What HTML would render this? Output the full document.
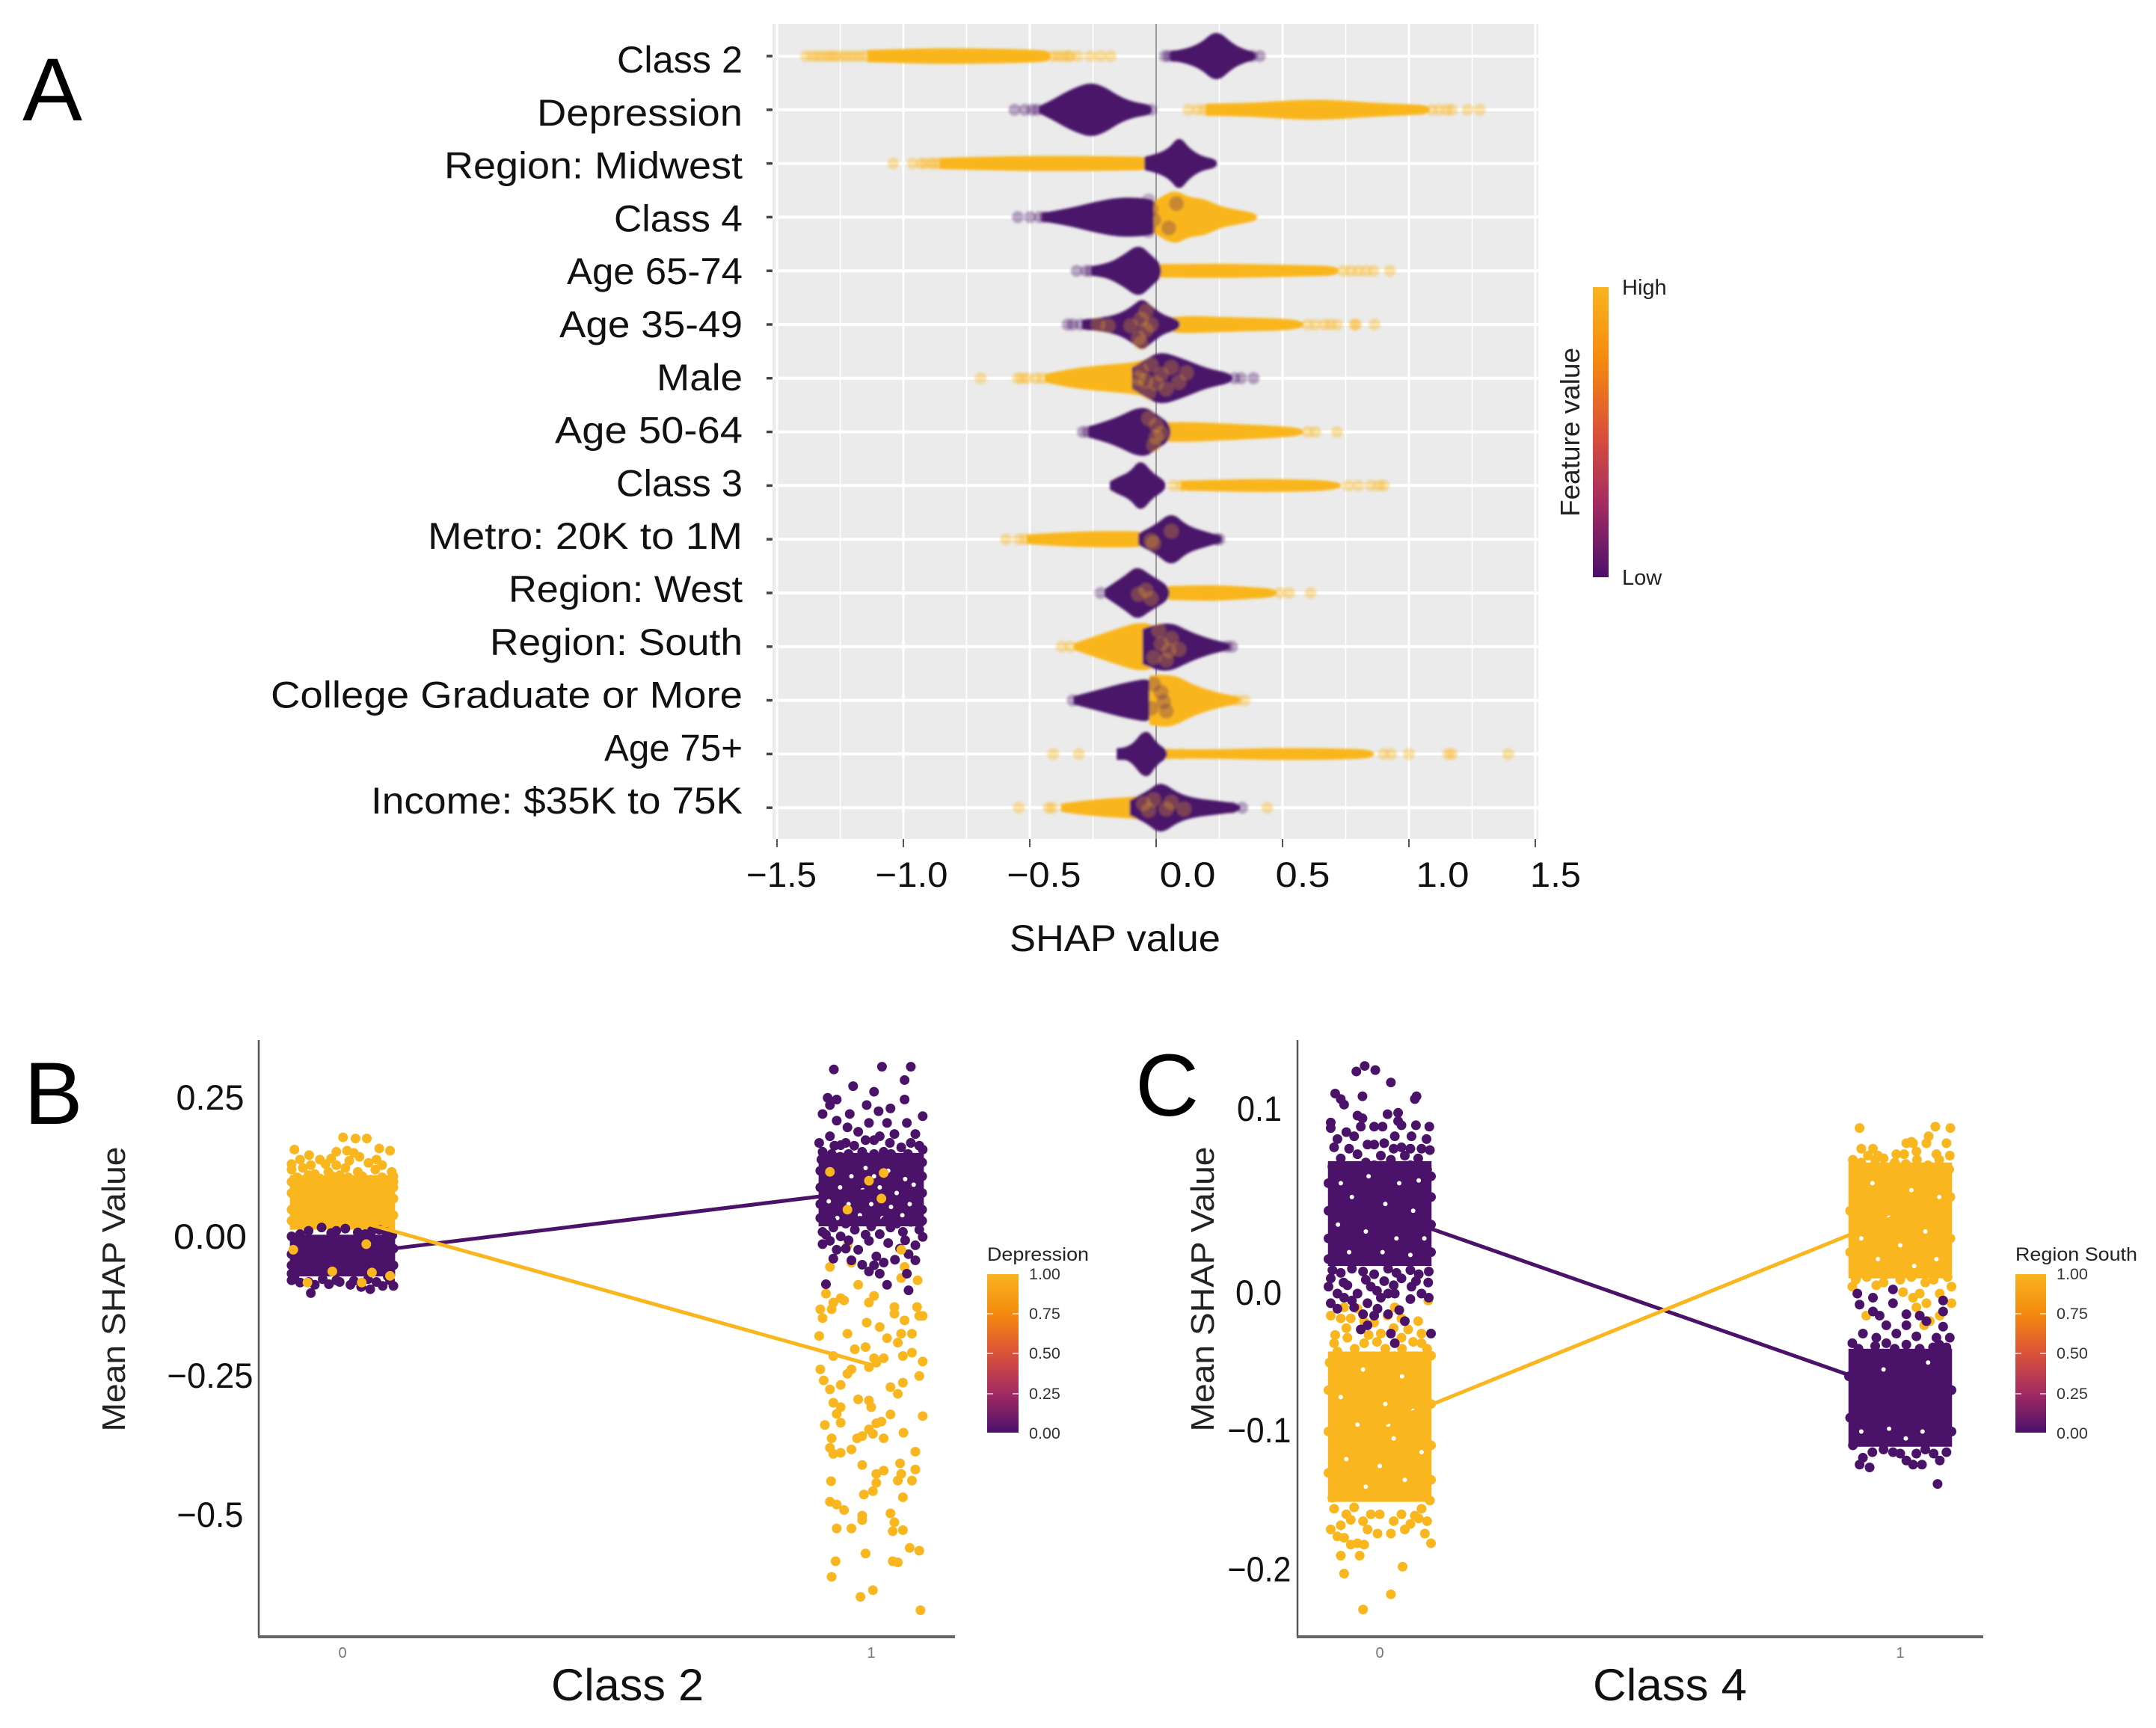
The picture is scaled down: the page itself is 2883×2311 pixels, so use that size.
<!DOCTYPE html>
<html lang="en">
<head>
<meta charset="utf-8">
<title>SHAP summary and interaction plots</title>
<style>
html,body{margin:0;padding:0;background:#fff;}
svg{display:block;font-family:"Liberation Sans",Arial,sans-serif;}
</style>
</head>
<body>
<svg id="fig" xmlns="http://www.w3.org/2000/svg" width="2883" height="2311" viewBox="0 0 2883 2311">
  <defs>
    <linearGradient id="ga" x1="0" y1="0" x2="0" y2="1">
      <stop offset="0" stop-color="#F9B41F"/><stop offset="0.25" stop-color="#F58A0E"/><stop offset="0.5" stop-color="#DB5239"/><stop offset="0.75" stop-color="#A32B62"/><stop offset="1" stop-color="#4B106C"/>
    </linearGradient>
    <filter id="soft" x="-5%" y="-5%" width="110%" height="110%"><feGaussianBlur stdDeviation="1.6"/></filter>
  </defs>
  <rect width="2883" height="2311" fill="#fff"/>

  <text x="30" y="161" font-size="120" fill="#000">A</text>
  <text x="32" y="1503" font-size="118" fill="#000">B</text>
  <text x="1518" y="1492" font-size="118" fill="#000">C</text>

  <rect x="1033" y="32" width="1024" height="1090" fill="#EBEBEB"/>
  <g id="grid"></g>
  <g id="swarm" filter="url(#soft)"></g>
  <g id="axisA"></g>

  <g font-size="47" fill="#111" text-anchor="middle">
    <text x="1045" y="1186" textLength="94" lengthAdjust="spacingAndGlyphs">−1.5</text>
    <text x="1219" y="1186" textLength="97" lengthAdjust="spacingAndGlyphs">−1.0</text>
    <text x="1396" y="1186" textLength="99" lengthAdjust="spacingAndGlyphs">−0.5</text>
    <text x="1588" y="1186" textLength="75" lengthAdjust="spacingAndGlyphs">0.0</text>
    <text x="1742" y="1186" textLength="73" lengthAdjust="spacingAndGlyphs">0.5</text>
    <text x="1929" y="1186" textLength="71" lengthAdjust="spacingAndGlyphs">1.0</text>
    <text x="2080" y="1186" textLength="68" lengthAdjust="spacingAndGlyphs">1.5</text>
  </g>
  <text x="1491" y="1272" font-size="50" fill="#111" text-anchor="middle" textLength="282" lengthAdjust="spacingAndGlyphs">SHAP value</text>

  <g>
    <rect x="2130" y="384" width="21" height="388" fill="url(#ga)"/>
    <text x="2169" y="394" font-size="29" fill="#222">High</text>
    <text x="2169" y="782" font-size="29" fill="#222">Low</text>
    <text transform="translate(2112 578) rotate(-90)" font-size="36" fill="#222" text-anchor="middle" textLength="226" lengthAdjust="spacingAndGlyphs">Feature value</text>
  </g>

  <!-- Panel B -->
  <g id="plotB"></g>
  <line x1="346" y1="1391" x2="346" y2="2189" stroke="#555" stroke-width="2.5"/>
  <line x1="345" y1="2189" x2="1277" y2="2189" stroke="#666" stroke-width="4"/>
  <text transform="translate(167 1724) rotate(-90)" font-size="44" fill="#222" text-anchor="middle" textLength="381" lengthAdjust="spacingAndGlyphs">Mean SHAP Value</text>
  <text x="839" y="2274" font-size="60" fill="#111" text-anchor="middle" textLength="204" lengthAdjust="spacingAndGlyphs">Class 2</text>
  <g font-size="47" fill="#111" text-anchor="middle">
    <text x="281" y="1484" textLength="91" lengthAdjust="spacingAndGlyphs">0.25</text>
    <text x="281" y="1670" textLength="98" lengthAdjust="spacingAndGlyphs">0.00</text>
    <text x="281" y="1856" textLength="115" lengthAdjust="spacingAndGlyphs">−0.25</text>
    <text x="281" y="2042" textLength="89" lengthAdjust="spacingAndGlyphs">−0.5</text>
  </g>
  <text x="458" y="2217" font-size="20" fill="#777" text-anchor="middle">0</text>
  <text x="1165" y="2217" font-size="20" fill="#777" text-anchor="middle">1</text>
  <g>
    <text x="1320" y="1686" font-size="25" fill="#222" textLength="136" lengthAdjust="spacingAndGlyphs">Depression</text>
    <rect x="1320" y="1704" width="42" height="212" fill="url(#ga)"/>
    <path d="M1320 1757h8M1354 1757h8M1320 1810h8M1354 1810h8M1320 1864h8M1354 1864h8" stroke="#fff" stroke-opacity=".6" stroke-width="2"/>
    <g font-size="21.5" fill="#333">
      <text x="1376" y="1711">1.00</text>
      <text x="1376" y="1764">0.75</text>
      <text x="1376" y="1817">0.50</text>
      <text x="1376" y="1871">0.25</text>
      <text x="1376" y="1924">0.00</text>
    </g>
  </g>

  <!-- Panel C -->
  <g id="plotC"></g>
  <line x1="1735" y1="1391" x2="1735" y2="2189" stroke="#555" stroke-width="2.5"/>
  <line x1="1734" y1="2189" x2="2652" y2="2189" stroke="#666" stroke-width="4"/>
  <text transform="translate(1623 1724) rotate(-90)" font-size="44" fill="#222" text-anchor="middle" textLength="381" lengthAdjust="spacingAndGlyphs">Mean SHAP Value</text>
  <text x="2233" y="2274" font-size="60" fill="#111" text-anchor="middle" textLength="206" lengthAdjust="spacingAndGlyphs">Class 4</text>
  <g font-size="47" fill="#111" text-anchor="middle">
    <text x="1684" y="1499" textLength="60" lengthAdjust="spacingAndGlyphs">0.1</text>
    <text x="1683" y="1745" textLength="62" lengthAdjust="spacingAndGlyphs">0.0</text>
    <text x="1684" y="1929" textLength="85" lengthAdjust="spacingAndGlyphs">−0.1</text>
    <text x="1684" y="2115" textLength="85" lengthAdjust="spacingAndGlyphs">−0.2</text>
  </g>
  <text x="1845" y="2217" font-size="20" fill="#777" text-anchor="middle">0</text>
  <text x="2541" y="2217" font-size="20" fill="#777" text-anchor="middle">1</text>
  <g>
    <text x="2695" y="1686" font-size="25" fill="#222" textLength="163" lengthAdjust="spacingAndGlyphs">Region South</text>
    <rect x="2695" y="1704" width="41" height="212" fill="url(#ga)"/>
    <path d="M2695 1757h8M2728 1757h8M2695 1810h8M2728 1810h8M2695 1864h8M2728 1864h8" stroke="#fff" stroke-opacity=".6" stroke-width="2"/>
    <g font-size="21.5" fill="#333">
      <text x="2750" y="1711">1.00</text>
      <text x="2750" y="1764">0.75</text>
      <text x="2750" y="1817">0.50</text>
      <text x="2750" y="1871">0.25</text>
      <text x="2750" y="1924">0.00</text>
    </g>
  </g>
</svg>

<script>
/* ===== Panel A data ===== */
const features = ["Class 2","Depression","Region: Midwest","Class 4","Age 65-74","Age 35-49","Male","Age 50-64","Class 3","Metro: 20K to 1M","Region: West","Region: South","College Graduate or More","Age 75+","Income: $35K to 75K"];
const featureLabelLengths = [168,275,399,172,235,245,115,251,169,421,313,338,631,185,497];
const shapTicks = [-1.5,-1,-0.5,0,0.5,1,1.5];
const shapMinorTicks = [-1.25,-0.75,-0.25,0.25,0.75,1.25];
/* density envelopes: [SHAP value, relative density] per feature */
const lowDensity = [
 [[.06,.16],[.103,.2],[.177,.44],[.238,.96],[.3,.44],[.348,.22],[.39,.12]],
 [[-.461,.11],[-.412,.33],[-.363,.6],[-.314,.82],[-.258,.99],[-.204,.82],[-.142,.44],[-.081,.24],[-.02,.16]],
 [[-.044,.22],[.005,.33],[.054,.55],[.091,.99],[.128,.55],[.177,.24],[.238,.13]],
 [[-.449,.13],[-.339,.31],[-.24,.55],[-.142,.71],[-.044,.68],[.002,.55]],
 [[-.253,.15],[-.191,.24],[-.13,.55],[-.069,.97],[-.02,.55],[.017,.22]],
 [[-.29,.15],[-.216,.22],[-.142,.38],[-.093,.66],[-.056,.95],[-.02,.66],[.029,.31],[.091,.16]],
 [[-.093,.38],[-.044,.66],[.017,.97],[.103,.71],[.201,.33],[.299,.15]],
 [[-.265,.18],[-.167,.44],[-.056,.97],[.005,.6],[.054,.27]],
 [[-.18,.13],[-.153,.28],[-.102,.48],[-.061,.96],[-.017,.45],[.034,.15]],
 [[-.068,.19],[0,.51],[.061,.99],[.119,.48],[.204,.23],[.255,.1]],
 [[-.2,.13],[-.17,.32],[-.119,.64],[-.075,.98],[-.024,.64],[.05,.23]],
 [[-.051,.64],[.041,.96],[.136,.51],[.221,.23],[.289,.1]],
 [[-.323,.13],[-.221,.38],[-.119,.64],[0,.83]],
 [[-.153,.19],[-.102,.19],[-.041,.96],[0,.38],[.041,.13]],
 [[-.102,.26],[-.034,.57],[.017,.96],[.085,.51],[.153,.32],[.238,.23],[.33,.12]]
];
const highDensity = [
 [[-1.14,.2],[-1.0,.24],[-.854,.27],[-.633,.25],[-.486,.21],[-.42,.17]],
 [[.2,.2],[.348,.22],[.446,.27],[.594,.35],[.716,.33],[.839,.24],[.986,.18],[1.08,.14]],
 [[-.854,.18],[-.633,.24],[-.388,.26],[-.142,.24],[-.02,.22]],
 [[-.007,.55],[.034,.82],[.079,.97],[.128,.71],[.189,.66],[.25,.38],[.324,.24],[.397,.11]],
 [[.017,.22],[.238,.24],[.397,.22],[.594,.18],[.72,.15]],
 [[.054,.22],[.103,.31],[.299,.24],[.581,.18]],
 [[-.437,.13],[-.339,.33],[-.216,.46],[-.093,.55],[-.044,.66],[-.007,.77]],
 [[.034,.33],[.128,.35],[.299,.27],[.471,.2],[.58,.11]],
 [[.1,.14],[.187,.18],[.459,.23],[.73,.15]],
 [[-.51,.15],[-.323,.26],[-.153,.28],[-.034,.26]],
 [[.05,.23],[.221,.28],[.357,.2],[.476,.13]],
 [[-.323,.1],[-.255,.32],[-.153,.64],[-.068,.89],[0,.77]],
 [[-.024,.89],[.058,.99],[.153,.51],[.255,.23],[.33,.1]],
 [[.034,.15],[.2,.14],[.39,.18],[.493,.2],[.73,.18],[.86,.13]],
 [[-.374,.13],[-.255,.28],[-.085,.38],[-.017,.45]]
];
const lowTail = [
 [.035,.05,.07,.38,.41],[-.56,-.52,-.49,-.47,-.02],[],[-.547,-.498,-.461,-.44],[-.314,-.277,-.26],[-.35,-.33,-.3,-.27,-.25],[.31,.336,.385],[-.29,-.27],[],[.24,.25],[-.22],[.28,.3],[-.33],[],[.3,.34]
];
const highTail = [
 [-1.385,-1.36,-1.34,-1.32,-1.3,-1.285,-1.27,-1.25,-1.23,-1.21,-1.19,-1.17,-1.15,-.41,-.39,-.37,-.35,-.34,-.31,-.26,-.22,-.18],
 [.128,.164,.19,.213,.23,1.09,1.12,1.15,1.17,1.232,1.28],
 [-1.04,-.964,-.93,-.915,-.89,-.878,-.86],
 [],
 [.74,.77,.8,.83,.86,.925],
 [.6,.63,.667,.69,.716,.785,.79,.864],
 [-.694,-.547,-.53,-.51,-.474,-.45],
 [.6,.63,.716],
 [.068,.1,.136,.76,.8,.85,.88,.9],
 [-.594,-.543,-.52],
 [.49,.527,.611],
 [-.374,-.34],
 [.32,.35],
 [-.408,-.306,.05,.1,.9,.93,1.0,1.155,1.17,1.393],
 [-.543,-.425,-.41,.44]
];
/* overlapping feature-value mixes: [SHAP value, offset from row centre] */
const mixPoints = [
 [],[],[],
 [[-.03,.5],[-.02,-.3],[-.05,.15],[-.01,.1],[-.03,-.6],[.05,.4],[.08,-.5],[-.04,-.1]],
 [],
 [[-.07,.5],[-.04,.2],[-.06,-.2],[-.04,-.5],[-.1,.05],[-.19,.05],[-.23,0],[-.02,.0],[-.06,.7]],
 [[-.08,.3],[-.06,-.3],[-.04,.1],[-.03,.55],[-.02,-.5],[0,.2],[.02,-.15],[.04,.4],[.06,-.4],[-.07,0],[.09,.15],[.12,-.2]],
 [[0,.2],[.0,-.25],[-.01,.5],[-.03,-.5],[.02,.05]],
 [],
 [[-.02,.05],[.06,-.3],[-.01,.15]],
 [[-.07,.05],[-.04,-.1],[-.02,.2]],
 [[-.01,.4],[.02,-.1],[.04,.5],[.06,-.3],[.09,.1],[.01,-.6],[.05,.15]],
 [[-.02,.3],[.02,-.3],[.04,.4],[-.01,-.6],[.03,.05]],
 [],
 [[-.03,.1],[-.05,-.15],[-.01,-.3],[.04,.05],[.06,-.2],[.11,.05]]
];

/* ===== Panels B & C data ===== */
const bMeansLow = [-.031,.085];
const bMeansHigh = [.037,-.229];
const cMeansLow = [.060,-.072];
const cMeansHigh = [-.0957,.0575];
/* dense bands: [category, low SHAP, high SHAP] */
const bCoreHigh = [[0,.014,.112]];
const bCoreLow = [[0,-.07,.005],[1,.02,.152]];
const cCoreHigh = [[0,-.151,-.042],[1,.011,.095]];
const cCoreLow = [[0,.02,.096],[1,-.111,-.040]];
/* individual points: [jitter, SHAP] */
const bHigh0 = [[.01,.18],[.23,.178],[.43,.178],[-.85,.158],[-.59,.148],[-.11,.154],[.08,.156],[.2,.152],[.65,.16],[.84,.156],[-.9,.132],[-.56,.13],[-.3,.132],[-.11,.13],[.46,.134],[.58,.122],[.87,.118],[.9,.11],[-.9,.122],[-.49,.114],[-.18,.11],[.27,.118],[-.8,.108],[-.6,.112],[-.4,.106],[-.25,.118],[-.05,.112],[.1,.108],[.35,.11],[.5,.104],[.7,.108],[.9,.1],[-.9,.1],[-.7,.125],[.05,.125],[.7,.13],[-.2,.142],[.3,.145],[-.75,.14],[.6,.14],[-.4,.14],[.12,.138],[-.9,.08],[.9,.07],[-.9,.05],[.9,.04],[-.9,.03],[.9,.09]];
const bLow0 = [[-.75,.006],[-.37,.018],[-.11,.012],[.27,.009],[.52,.012],[.77,.01],[-.9,.002],[-.6,.012],[-.2,.008],[.05,.016],[.4,.006],[.65,.014],[.88,.004],[-.85,-.07],[-.6,-.08],[-.35,-.075],[-.05,-.08],[.2,-.078],[.45,-.075],[.6,-.08],[.8,-.07],[-.9,-.05],[.9,-.05],[-.9,-.03],[.9,-.02],[-.56,-.1],[-.9,-.077],[-.75,-.081],[-.49,-.085],[-.24,-.084],[.14,-.085],[.33,-.089],[.49,-.093],[.71,-.087],[.9,-.087],[.84,-.077],[-.11,-.077],[-.9,-.065]];
const bHigh0Over = [[.42,-.012],[-.18,-.061],[.52,-.063],[.84,-.069],[-.87,-.022],[-.62,-.081],[.34,-.081]];
const bHigh1 = [[-.92,-.177],[-.86,-.145],[-.7,-.129],[-.9,-.129],[-.42,-.173],[-.08,-.153],[.15,-.161],[.41,-.137],[.59,-.149],[.85,-.141],[.91,-.141],[.81,-.125],[.28,-.181],[.53,-.173],[.72,-.173],[.47,-.189],[.72,-.207],[.91,-.223],[.56,-.213],[-.67,-.213],[-.29,-.201],[-.1,-.197],[.05,-.217],[.22,-.217],[-.04,-.233],[.09,-.225],[-.35,-.237],[-.9,-.237],[-.84,-.257],[-.73,-.273],[-.54,-.265],[-.42,-.245],[.85,-.249],[.56,-.261],[.34,-.269],[.47,-.281],[-.67,-.297],[-.54,-.305],[-.23,-.291],[-.04,-.293],[0,-.305],[-.61,-.317],[.34,-.318],[.91,-.321],[-.54,-.333],[-.82,-.337],[.09,-.334],[.18,-.331],[-.04,-.345],[-.16,-.357],[.03,-.353],[.22,-.361],[.57,-.351],[-.7,-.361],[-.25,-.361],[-.73,-.378],[-.67,-.389],[-.54,-.387],[-.35,-.381],[.78,-.385],[-.16,-.409],[.51,-.406],[.78,-.417],[.22,-.419],[.09,-.425],[.53,-.425],[.47,-.437],[.72,-.437],[-.71,-.438],[.09,-.441],[.03,-.456],[-.13,-.462],[.56,-.467],[-.73,-.475],[-.61,-.48],[-.48,-.49],[-.16,-.5],[.34,-.496],[.41,-.512],[-.61,-.523],[-.35,-.523],[-.16,-.508],[.38,-.528],[.56,-.526],[.68,-.558],[.85,-.563],[-.1,-.568],[-.63,-.582],[.38,-.582],[.47,-.584],[-.7,-.61],[.03,-.634],[-.19,-.646],[.87,-.67],[-.54,-.109],[-.8,-.101],[-.67,-.117],[-.48,-.113],[-.23,-.085],[-.04,-.117],[.05,-.105],[.82,-.077],[.53,-.073],[-.35,-.045],[-.73,-.053],[-.42,-.014],[.59,-.053],[.41,-.125]];
const bLow1 = [[-.66,.302],[.19,.307],[.7,.307],[.59,.283],[-.32,.272],[.05,.262],[-.77,.251],[-.61,.248],[.59,.248],[-.08,.238],[-.73,.238],[.34,.232],[.13,.227],[-.86,.222],[-.38,.222],[.91,.218],[-.61,.21],[.63,.206],[.28,.206],[-.04,.206],[-.42,.198],[-.92,.17],[-.73,.182],[-.23,.19],[.78,.186],[.41,.186],[.15,.182],[-.54,.166],[-.86,.154],[.91,.158],[-.16,.154],[.53,.162],[.22,.154],[-.88,.14],[-.7,.15],[-.55,.145],[-.4,.15],[-.25,.14],[-.1,.145],[.05,.15],[.2,.14],[.35,.15],[.5,.14],[.65,.15],[.8,.14],[.9,.135],[-.8,.13],[-.45,.17],[-.3,.165],[-.1,.175],[.05,.175],[.33,.17],[.7,.17],[.85,.165],[-.65,.165],[-.9,.12],[.9,.11],[-.9,.09],[.9,.08],[-.9,.06],[.9,.05],[-.9,.035],[.9,.03],[-.7,.03],[-.45,.025],[-.2,.03],[0,.02],[.25,.03],[.45,.025],[.7,.028],[-.8,.005],[-.4,-.005],[-.1,.005],[.3,-.01],[.6,-.005],[.42,-.04],[.05,-.05],[-.45,-.02],[-.86,.01],[-.67,.018],[-.54,.002],[-.29,.014],[-.04,-.006],[.15,.006],[.34,.018],[.56,.01],[.85,.014],[.91,.001],[-.86,-.012],[-.61,-.022],[-.73,-.006],[-.23,-.022],[.09,-.034],[.51,-.02],[.78,-.014],[.66,-.03],[-.35,-.041],[-.16,-.049],[-.04,-.061],[.22,-.045],[-.67,-.038],[.78,-.041],[.63,-.065],[.28,-.085],[-.8,-.084],[.66,-.095],[.15,-.065]];
const bHigh1Over = [[.18,.07],[-.73,.118],[-.04,.102],[-.42,.05],[.53,-.022],[.22,.116]];
const cLow0 = [[-.42,.161],[-.27,.165],[-.08,.162],[.2,.153],[-.8,.145],[-.7,.141],[-.31,.143],[-.64,.137],[.66,.143],[.63,.141],[-.4,.129],[-.31,.127],[.14,.13],[.33,.131],[.33,.125],[-.88,.124],[-.88,.12],[-.6,.117],[-.34,.121],[-.1,.121],[.05,.121],[.39,.122],[.65,.122],[.89,.121],[-.76,.112],[-.46,.114],[.27,.114],[.57,.114],[.84,.112],[-.82,.106],[-.22,.108],[.08,.109],[.39,.106],[.75,.105],[.9,.104],[-.7,.098],[-.4,.101],[.02,.1],[.45,.1],[.69,.098],[-.85,.092],[-.6,.09],[-.25,.095],[-.1,.093],[.2,.097],[.3,.09],[.55,.093],[.85,.09],[-.55,.105],[-.1,.108],[.25,.105],[.55,.105],[-.85,.017],[-.7,.015],[-.5,.018],[-.3,.016],[-.1,.014],[.15,.018],[.3,.015],[.55,.017],[.7,.014],[.88,.016],[-.65,.008],[-.25,.01],[.25,.006],[.65,.009],[-.5,-.005],[-.05,.002],[.15,0],[.55,-.004],[.88,-.003],[.35,-.012],[.15,-.015],[-.3,-.015],[.45,-.02],[-.92,.08],[.92,.07],[-.92,.06],[.92,.05],[-.92,.04],[.92,.03],[-.92,.025],[.92,.085],[-.88,.011],[-.92,.005],[-.76,0],[-.58,.006],[-.4,0],[-.16,.005],[.08,.009],[.39,.011],[.57,.005],[.87,.008],[-.88,-.007],[-.64,-.003],[-.46,-.01],[-.22,-.007],[.02,-.003],[.27,0],[.75,0],[-.1,-.016],[-.34,-.026],[.2,-.029],[.27,-.036],[.92,-.029],[-.04,-.011],[-.76,-.011],[-.22,-.023]];
const cHigh0 = [[.87,-.005],[-.88,-.016],[-.7,-.018],[-.52,-.018],[-.28,-.02],[-.1,-.021],[.14,-.016],[.39,-.018],[.69,-.02],[-.64,-.01],[-.4,-.011],[.27,-.01],[-.82,-.036],[-.58,-.032],[-.28,-.036],[.02,-.029],[.51,-.026],[.75,-.029],[-.76,-.042],[.39,-.032],[.75,-.036],[-.8,-.03],[-.6,-.025],[-.45,-.04],[-.2,-.03],[-.05,-.035],[.1,-.04],[.25,-.025],[.4,-.04],[.6,-.035],[.85,-.04],[-.9,-.05],[.92,-.045],[-.92,-.07],[.92,-.08],[-.92,-.1],[.92,-.11],[-.92,-.13],[.92,-.135],[-.85,-.148],[.9,-.15],[-.6,-.16],[-.3,-.165],[0,-.16],[.25,-.165],[.55,-.167],[.7,-.163],[.85,-.165],[-.82,-.156],[-.46,-.155],[-.16,-.16],[.63,-.161],[-.88,-.171],[-.7,-.168],[-.52,-.164],[-.76,-.176],[-.64,-.177],[-.4,-.181],[-.22,-.171],[-.04,-.174],[.2,-.174],[.45,-.171],[.81,-.174],[.92,-.181],[-.52,-.182],[-.28,-.182],[-.7,-.19],[-.36,-.19],[-.64,-.203],[.41,-.198],[.2,-.218],[-.3,-.229],[.39,-.16],[.75,-.156]];
const cHigh1 = [[-.73,.12],[.63,.121],[.9,.12],[.51,.114],[.11,.109],[.23,.109],[.47,.109],[.83,.109],[-.7,.105],[-.49,.105],[-.07,.101],[.07,.101],[.29,.103],[.65,.101],[.89,.1],[-.58,.1],[-.85,.097],[-.7,.095],[-.45,.097],[-.3,.098],[-.1,.095],[.1,.094],[.3,.097],[.5,.093],[.7,.097],[.88,.09],[.2,.11],[-.4,.1],[-.8,.01],[-.6,.012],[-.3,.008],[0,.01],[.2,.012],[.45,.008],[.6,.01],[.85,.012],[-.9,.03],[.9,.04],[-.9,.06],[.9,.07],[-.86,.005],[-.43,.006],[-.25,.014],[.05,.001],[.35,0],[.71,0],[.92,.005],[.92,-.007],[.47,-.007],[.29,-.01],[.71,-.016],[.53,-.02],[-.61,-.016],[.43,-.023],[.23,-.003]];
const cLow1 = [[-.77,0],[-.49,-.003],[-.13,.003],[-.73,-.008],[-.49,-.013],[-.13,-.007],[.77,-.005],[.11,-.015],[.35,-.016],[.77,-.013],[-.37,-.016],[-.25,-.023],[.11,-.023],[.47,-.02],[.77,-.024],[-.67,-.029],[-.43,-.032],[-.07,-.029],[.29,-.031],[.65,-.032],[.89,-.032],[-.86,-.036],[-.25,-.036],[.11,-.037],[.59,-.039],[.83,-.039],[-.75,-.04],[-.45,-.038],[-.1,-.04],[.35,-.04],[.7,-.037],[-.85,-.11],[-.5,-.115],[-.3,-.113],[0,-.116],[.45,-.113],[.6,-.116],[-.9,-.09],[.92,-.07],[-.92,-.06],[.92,-.1],[-.67,-.119],[-.73,-.124],[-.55,-.126],[-.13,-.115],[.11,-.121],[.23,-.124],[.39,-.124],[.71,-.121],[.29,-.116],[.83,-.115],[.67,-.138]];
/* uncovered gaps inside the dense bands: [jitter, SHAP] */
const bLow1Gaps = [[-.7,.12],[-.35,.11],[-.1,.125],[.3,.12],[.6,.105],[-.55,.09],[-.15,.085],[.15,.09],[.45,.08],[.75,.095],[-.75,.065],[-.4,.06],[0,.06],[.35,.055],[.68,.06],[-.6,.035],[-.2,.04],[.2,.035],[.55,.04],[.05,.11]];
const cLow0Gaps = [[-.7,.08],[-.2,.085],[.35,.08],[.7,.082],[-.5,.07],[.1,.065],[.6,.06],[-.75,.05],[-.25,.045],[.3,.04],[.8,.04],[-.55,.03],[.05,.03],[.55,.028]];
const cHigh0Gaps = [[-.3,-.055],[.4,-.06],[-.7,-.075],[.1,-.08],[.6,-.085],[-.4,-.095],[.25,-.105],[.75,-.115],[-.6,-.12],[0,-.125],[.45,-.135],[-.25,-.14],[.15,-.095]];
const cHigh1Gaps = [[-.5,.08],[.2,.075],[.7,.07],[-.2,.055],[.45,.045],[-.7,.04],[0,.035],[.65,.025],[-.4,.025],[.25,.02]];
const cLow1Gaps = [[-.3,-.055],[.5,-.05],[-.7,-.1],[.1,-.105],[.4,-.1],[-.2,-.098]];

/* ===== Helpers ===== */
const NS = 'http://www.w3.org/2000/svg';
const PURPLE = '#4A1269';
const YELLOW = '#F9B61F';
function mk(tag, attrs, parent) {
  const el = document.createElementNS(NS, tag);
  for (const k in attrs) el.setAttribute(k, attrs[k]);
  parent.appendChild(el);
  return el;
}
/* Panel A axis functions */
const xA = v => 1546 + 338 * v;
const rowY = i => 75 + 71.8 * i;
const labelBase = i => 97 + 70.8 * i;
const densityPx = d => d * 36;

const grid = document.getElementById('grid');
const swarm = document.getElementById('swarm');
const axisA = document.getElementById('axisA');

shapMinorTicks.forEach(t => {
  const el = mk('line', {x1: xA(t), x2: xA(t), y1: 32, y2: 1122, stroke: '#fff', 'stroke-width': 1.6}, grid);
  
  
});
shapTicks.forEach(t => {
  const el = mk('line', {x1: xA(t), x2: xA(t), y1: 32, y2: 1122, stroke: '#fff', 'stroke-width': 3}, grid);
  
  
  const tk = mk('line', {x1: xA(t), x2: xA(t), y1: 1122, y2: 1133, stroke: '#555', 'stroke-width': 2}, axisA);
  
  
});
features.forEach((f, i) => {
  const gl = mk('line', {x1: 1033, x2: 2057, y1: rowY(i), y2: rowY(i), stroke: '#fff', 'stroke-width': 4}, grid);
  
  
  const tk = mk('line', {x1: 1025, x2: 1033, y1: rowY(i), y2: rowY(i), stroke: '#444', 'stroke-width': 3.5}, axisA);
  
  
  const tx = mk('text', {x: 993, y: labelBase(i), 'font-size': 50, fill: '#111', 'text-anchor': 'end', textLength: featureLabelLengths[i], lengthAdjust: 'spacingAndGlyphs'}, axisA);
  tx.textContent = f;
  
  
});
const zero = mk('line', {x1: xA(0), x2: xA(0), y1: 32, y2: 1122, stroke: '#9a9a9a', 'stroke-width': 2.2}, grid);



function envelope(profile, i) {
  const cy = rowY(i);
  const top = profile.map(p => [xA(p[0]), cy - densityPx(p[1])]);
  const bot = profile.map(p => [xA(p[0]), cy + densityPx(p[1])]).reverse();
  const pts = top.concat(bot);
  let d = 'M' + pts[0][0] + ' ' + pts[0][1];
  for (let k = 1; k < pts.length - 1; k++) {
    const mx = (pts[k][0] + pts[k + 1][0]) / 2;
    const my = (pts[k][1] + pts[k + 1][1]) / 2;
    d += 'Q' + pts[k][0] + ' ' + pts[k][1] + ' ' + mx + ' ' + my;
  }
  d += 'L' + pts[pts.length - 1][0] + ' ' + pts[pts.length - 1][1] + 'Z';
  return d;
}
function drawTail(values, i, color) {
  values.forEach(v => {
    const c = mk('circle', {cx: xA(v), cy: rowY(i), r: 8, fill: color, 'fill-opacity': .38}, swarm);
    
    
  });
}
features.forEach((f, i) => {
  drawTail(highTail[i], i, YELLOW);
  drawTail(lowTail[i], i, PURPLE);
  const lowFirst = i === 3 || i === 12 || i === 0;
  const drawLow = () => {
    const p = mk('path', {d: envelope(lowDensity[i], i), fill: PURPLE, stroke: PURPLE, 'stroke-width': 2, 'stroke-linejoin': 'round'}, swarm);
    
    
  };
  const drawHigh = () => {
    const p = mk('path', {d: envelope(highDensity[i], i), fill: YELLOW, stroke: YELLOW, 'stroke-width': 2, 'stroke-linejoin': 'round'}, swarm);
    
    
  };
  if (lowFirst) { drawLow(); drawHigh(); } else { drawHigh(); drawLow(); }
  mixPoints[i].forEach(m => {
    const c = mk('circle', {cx: xA(m[0]), cy: rowY(i) + densityPx(m[1]), r: 10, fill: (i === 3 || i === 12) ? PURPLE : YELLOW, 'fill-opacity': .28}, swarm);
    
    
  });
});

/* Panels B & C axis functions */
const xB = c => 458 + 707 * c;
const yB = v => 1655 - 744 * v;
const xC = c => 1845 + 696 * c;
const yC = v => 1730 - 1845 * v;
const JIT = .107;

function drawCores(cores, color, xf, yf, parent) {
  cores.forEach(c => {
    const half = JIT * (xf(1) - xf(0)) * .93;
    const r = mk('rect', {x: xf(c[0]) - half, width: half * 2, y: yf(c[2]), height: yf(c[1]) - yf(c[2]), fill: color}, parent);
    
    
  });
}
function drawPoints(points, cat, color, xf, yf, parent) {
  points.forEach(p => {
    const c = mk('circle', {cx: xf(cat + p[0] * JIT), cy: yf(p[1]), r: 6.5, fill: color}, parent);
    
    
  });
}
function drawGaps(points, cat, xf, yf, parent) {
  points.forEach(p => {
    const c = mk('circle', {cx: xf(cat + p[0] * JIT), cy: yf(p[1]), r: 3, fill: '#fff'}, parent);
    
    
  });
}
function drawMean(means, color, xf, yf, parent) {
  const l = mk('line', {x1: xf(0), y1: yf(means[0]), x2: xf(1), y2: yf(means[1]), stroke: color, 'stroke-width': 5}, parent);
  
  
}
const plotB = document.getElementById('plotB');
drawPoints(bHigh0, 0, YELLOW, xB, yB, plotB);
drawCores(bCoreHigh, YELLOW, xB, yB, plotB);
drawPoints(bHigh1, 1, YELLOW, xB, yB, plotB);
drawCores(bCoreLow, PURPLE, xB, yB, plotB);
drawGaps(bLow1Gaps, 1, xB, yB, plotB);
drawPoints(bLow0, 0, PURPLE, xB, yB, plotB);
drawPoints(bLow1, 1, PURPLE, xB, yB, plotB);
drawPoints(bHigh0Over, 0, YELLOW, xB, yB, plotB);
drawPoints(bHigh1Over, 1, YELLOW, xB, yB, plotB);
drawMean(bMeansLow, PURPLE, xB, yB, plotB);
drawMean(bMeansHigh, YELLOW, xB, yB, plotB);

const plotC = document.getElementById('plotC');
drawCores(cCoreHigh, YELLOW, xC, yC, plotC);
drawGaps(cHigh0Gaps, 0, xC, yC, plotC);
drawGaps(cHigh1Gaps, 1, xC, yC, plotC);
drawPoints(cHigh0, 0, YELLOW, xC, yC, plotC);
drawPoints(cHigh1, 1, YELLOW, xC, yC, plotC);
drawCores(cCoreLow, PURPLE, xC, yC, plotC);
drawGaps(cLow0Gaps, 0, xC, yC, plotC);
drawGaps(cLow1Gaps, 1, xC, yC, plotC);
drawPoints(cLow0, 0, PURPLE, xC, yC, plotC);
drawPoints(cLow1, 1, PURPLE, xC, yC, plotC);
drawMean(cMeansLow, PURPLE, xC, yC, plotC);
drawMean(cMeansHigh, YELLOW, xC, yC, plotC);
</script>
</body>
</html>
